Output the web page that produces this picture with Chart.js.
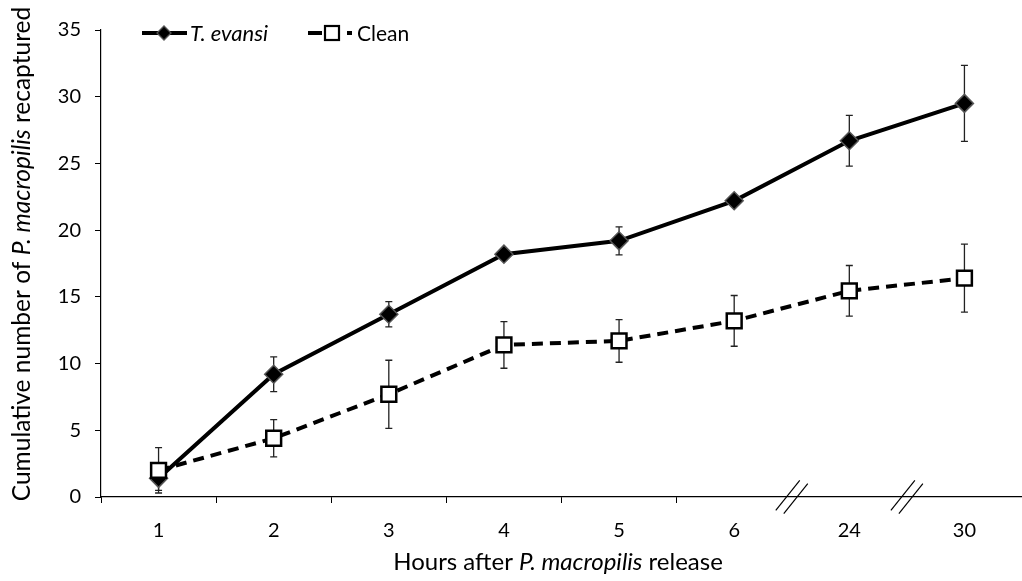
<!DOCTYPE html>
<html><head><meta charset="utf-8">
<script src="https://cdn.jsdelivr.net/npm/chart.js@4"></script>
<style>html,body{margin:0;padding:0;background:#fff}#wrap{width:1022px;height:581px;position:relative}</style>
</head><body><div id="wrap"><canvas id="c" width="1022" height="581"></canvas></div>
<script>
const categories = ['1', '2', '3', '4', '5', '6', '24', '30'];
const evansiMeans = [1.4, 9.2, 13.7, 18.2, 19.2, 22.2, 26.7, 29.5];
const evansiErrors = [0.9, 1.3, 0.95, 0.4, 1.05, 0.3, 1.9, 2.85];
const cleanMeans = [2.0, 4.4, 7.7, 11.4, 11.7, 13.2, 15.45, 16.4];
const cleanErrors = [1.7, 1.4, 2.55, 1.75, 1.6, 1.9, 1.9, 2.55];
const yTickValues = [0, 5, 10, 15, 20, 25, 30, 35];
const breakAfterIndex = [5, 6];
const yTitleParts = [['Cumulative number of ', false], ['P. macropilis', true], [' recaptured', false]];
const xTitleParts = [['Hours after ', false], ['P. macropilis', true], [' release', false]];
const legendLabels = [['T. evansi', true], ['Clean', false]];

const FONT = 'Lato';

function drawParts(ctx, parts, size) {
  let total = 0;
  const widths = parts.map(([t, it]) => { ctx.font = (it ? 'italic ' : '') + size + 'px ' + FONT; const w = ctx.measureText(t).width; total += w; return w; });
  let x = -total / 2;
  parts.forEach(([t, it], i) => { ctx.font = (it ? 'italic ' : '') + size + 'px ' + FONT; ctx.fillText(t, x, 0); x += widths[i]; });
}

const extras = {
  id: 'extras',
  beforeDatasetsDraw(chart) {
    const ctx = chart.ctx, xs = chart.scales.x, ys = chart.scales.y;
    ctx.save();
    ctx.strokeStyle = '#222'; ctx.lineWidth = 1.3;
    chart.data.datasets.forEach(ds => {
      ds.errors.forEach((e, i) => {
        const x = xs.getPixelForValue(i);
        const yh = ys.getPixelForValue(ds.data[i] + e);
        const yl = ys.getPixelForValue(Math.max(0, ds.data[i] - e));
        ctx.beginPath();
        ctx.moveTo(x, yh); ctx.lineTo(x, yl);
        ctx.moveTo(x - 3.5, yh); ctx.lineTo(x + 3.5, yh);
        ctx.moveTo(x - 3.5, yl); ctx.lineTo(x + 3.5, yl);
        ctx.stroke();
      });
    });
    ctx.restore();
  },
  afterDraw(chart) {
    const ctx = chart.ctx, xs = chart.scales.x, ys = chart.scales.y, ca = chart.chartArea;
    ctx.save();
    // axis breaks
    ctx.strokeStyle = '#000'; ctx.lineWidth = 1.2;
    breakAfterIndex.forEach(i => {
      const bx = (xs.getPixelForValue(i) + xs.getPixelForValue(i + 1)) / 2;
      const by = ca.bottom;
      [-4, 4].forEach(off => {
        ctx.beginPath();
        ctx.moveTo(bx + off - 12, by + 15 + off * 0.4);
        ctx.lineTo(bx + off + 12, by - 15 + off * 0.4);
        ctx.stroke();
      });
    });
    // titles
    ctx.fillStyle = '#000'; ctx.textBaseline = 'middle'; ctx.textAlign = 'left';
    ctx.save(); ctx.translate(558, 562); drawParts(ctx, xTitleParts, 24); ctx.restore();
    ctx.save(); ctx.translate(22, 254); ctx.rotate(-Math.PI / 2); drawParts(ctx, yTitleParts, 24.5); ctx.restore();
    // legend
    const d0 = chart.data.datasets[0];
    const ly = 33;
    ctx.strokeStyle = '#000'; ctx.lineWidth = 4; ctx.setLineDash([]);
    ctx.beginPath(); ctx.moveTo(142, ly); ctx.lineTo(187, ly); ctx.stroke();
    ctx.beginPath(); ctx.moveTo(164, ly - 7); ctx.lineTo(171, ly); ctx.lineTo(164, ly + 7); ctx.lineTo(157, ly); ctx.closePath();
    ctx.fillStyle = d0.pointBackgroundColor; ctx.fill(); ctx.strokeStyle = d0.pointBorderColor; ctx.lineWidth = 1.3; ctx.stroke();
    ctx.strokeStyle = '#000'; ctx.lineWidth = 4; ctx.setLineDash([14, 25]);
    ctx.beginPath(); ctx.moveTo(308, ly); ctx.lineTo(352, ly); ctx.stroke();
    ctx.setLineDash([]);
    ctx.fillStyle = '#fff'; ctx.fillRect(325, ly - 7, 14, 14);
    ctx.lineWidth = 2.2; ctx.strokeRect(325, ly - 7, 14, 14);
    ctx.fillStyle = '#000';
    ctx.font = (legendLabels[0][1] ? 'italic ' : '') + '22px ' + FONT; ctx.fillText(legendLabels[0][0], 190, ly + 1);
    ctx.font = (legendLabels[1][1] ? 'italic ' : '') + '21px ' + FONT; ctx.fillText(legendLabels[1][0], 357, ly + 1);
    ctx.restore();
  }
};

new Chart(document.getElementById('c'), {
  type: 'line',
  data: {
    labels: categories,
    datasets: [
      {
        label: 'T. evansi', data: evansiMeans, errors: evansiErrors, order: 2,
        borderColor: '#000', borderWidth: 4, tension: 0, fill: false,
        pointStyle: 'rectRot', pointRadius: 9, pointHoverRadius: 9,
        pointBackgroundColor: '#000', pointBorderColor: '#555', pointBorderWidth: 1.5
      },
      {
        label: 'Clean', data: cleanMeans, errors: cleanErrors, order: 1,
        borderColor: '#000', borderWidth: 4, borderDash: [11, 7], tension: 0, fill: false,
        pointStyle: 'rect', pointRadius: 10.5, pointHoverRadius: 10.5,
        pointBackgroundColor: '#fff', pointBorderColor: '#000', pointBorderWidth: 2.5
      }
    ]
  },
  options: {
    responsive: false, animation: false, devicePixelRatio: 1,
    layout: { autoPadding: false, padding: { left: 0, right: 0, top: 30, bottom: 0 } },
    plugins: { legend: { display: false }, tooltip: { enabled: false }, title: { display: false } },
    scales: {
      x: {
        type: 'category', offset: true,
        afterFit: s => { s.height = 84; s.paddingLeft = 0; s.paddingRight = 0; },
        border: { color: '#000', width: 1.2 },
        grid: {
          offset: true, drawOnChartArea: false, drawTicks: true, tickLength: 6,
          color: c => (c.index === breakAfterIndex[0] + 1 || c.index === breakAfterIndex[1] + 1) ? 'rgba(0,0,0,0)' : '#000'
        },
        ticks: { color: '#000', font: { family: FONT, size: 20 }, padding: 16, maxRotation: 0, autoSkip: false }
      },
      y: {
        min: yTickValues[0], max: yTickValues[yTickValues.length - 1],
        afterFit: s => { s.width = 101; s.paddingTop = 0; s.paddingBottom = 0; },
        afterBuildTicks: s => { s.ticks = yTickValues.map(v => ({ value: v })); },
        border: { color: '#000', width: 1.2 },
        grid: { drawOnChartArea: false, drawTicks: true, tickLength: 6, color: '#000' },
        ticks: { color: '#000', font: { family: FONT, size: 20 }, padding: 14 }
      }
    }
  },
  plugins: [extras]
});
</script></body></html>
